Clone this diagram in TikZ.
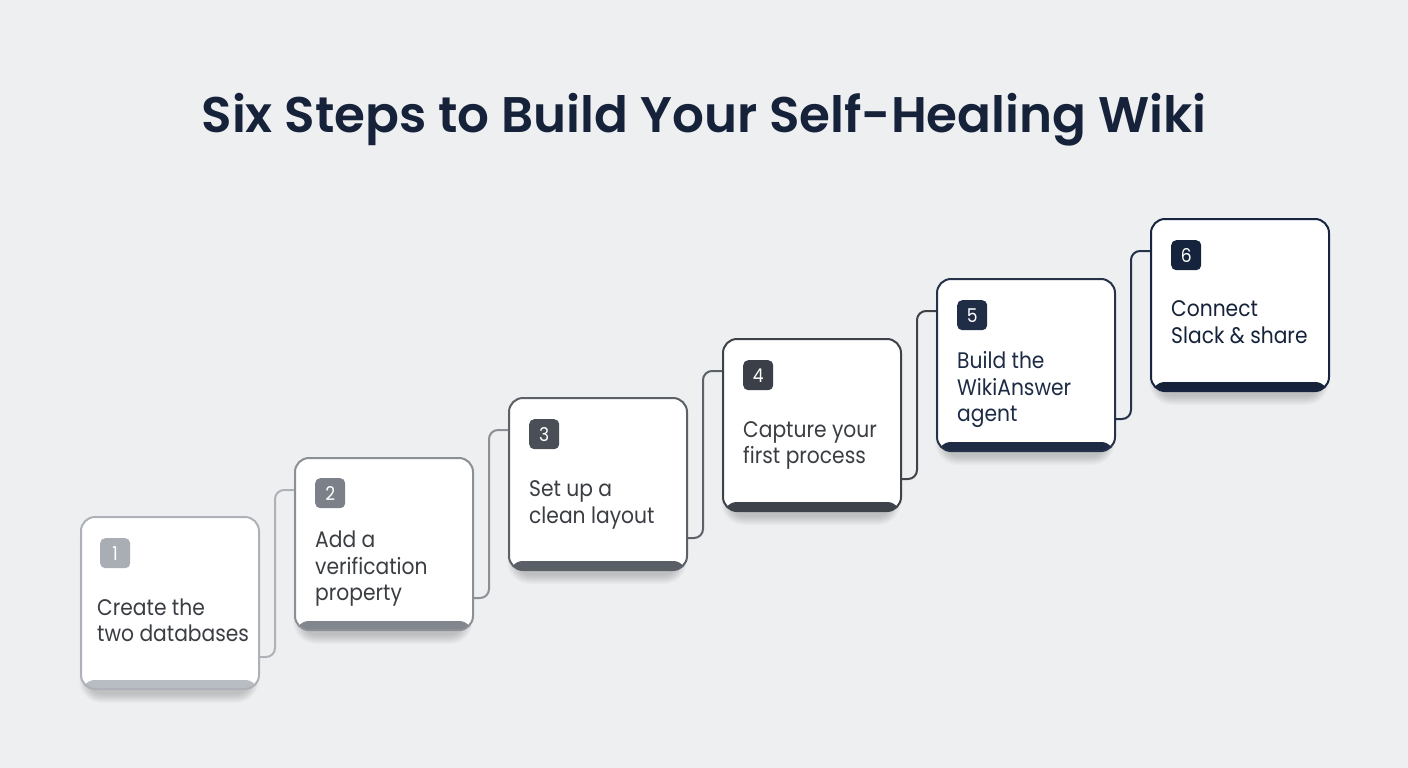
\documentclass[tikz,border=0pt]{standalone}
\usepackage{fontspec}
\setmainfont{Poppins}
\newfontfamily\bodyfont{Poppins}[FakeStretch=0.9]
\newfontfamily\titlefont{Poppins}[UprightFont={* SemiBold}]
\usetikzlibrary{calc}
\definecolor{bgc}{HTML}{EEEFF1}
\definecolor{navy}{HTML}{15223A}
\definecolor{txt}{HTML}{3A3D42}
\definecolor{bA}{HTML}{AEB2B8}\definecolor{nA}{HTML}{A9ADB4}\definecolor{kA}{HTML}{B8BCC3}
\definecolor{bB}{HTML}{8C9096}\definecolor{nB}{HTML}{7C8088}\definecolor{kB}{HTML}{82868D}
\definecolor{bC}{HTML}{5C6067}\definecolor{nC}{HTML}{4A4F57}\definecolor{kC}{HTML}{5A5E66}
\definecolor{bD}{HTML}{3E434A}\definecolor{nD}{HTML}{3A3F48}\definecolor{kD}{HTML}{3E434B}
\definecolor{bE}{HTML}{25324A}\definecolor{nE}{HTML}{1F2D47}\definecolor{kE}{HTML}{1E2B45}
\definecolor{bF}{HTML}{182540}\definecolor{nF}{HTML}{15233D}\definecolor{kF}{HTML}{15223A}
\tikzset{
  card/.style 2 args={draw=#1, line width=2pt, fill=white, rounded corners=14pt,
    minimum width=178pt, minimum height=172pt, inner sep=0pt, anchor=north west,
    path picture={\fill[#2] ([yshift=-1pt]path picture bounding box.south west) rectangle ([yshift=9pt]path picture bounding box.south east);}},
  badge/.style={fill=#1, rounded corners=5pt, minimum width=30pt, minimum height=30pt,
    inner sep=0pt, anchor=north west, text=white, font=\bodyfont\fontsize{19}{19}\selectfont},
  line/.style={anchor=base west, inner sep=0pt, font=\bodyfont\fontsize{22.5}{27}\selectfont, text=#1},
  conn/.style={draw=#1, line width=2pt, rounded corners=9pt},
  shadowlayer/.style={fill=black, opacity=0.02},
}
\begin{document}
\begin{tikzpicture}[x=1pt,y=-1pt]
\fill[bgc] (0,0) rectangle (1408,768);
\node[anchor=base, text=navy, font=\titlefont\fontsize{50}{50}\selectfont] (title) at (704,132) {Six Steps to Build Your Self-Healing Wiki};
% soft shadows under the cards
\foreach \x/\y in {80/516,294/457,508/397,722/338,936/278,1150/218}
  \foreach \i in {0,...,9}
    \fill[shadowlayer, rounded corners={14+\i}] ({\x+8-\i},{\y+14-\i}) rectangle ({\x+170+\i},{\y+178+\i});
% cards
\node[card={bA}{kA}] (c1) at (80,516) {};
\node[card={bB}{kB}] (c2) at (294,457) {};
\node[card={bC}{kC}] (c3) at (508,397) {};
\node[card={bD}{kD}] (c4) at (722,338) {};
\node[card={bE}{kE}] (c5) at (936,278) {};
\node[card={bF}{kF}] (c6) at (1150,218) {};
% badges
\node[badge=nA] (n1) at (100,538) {1};
\node[badge=nB] (n2) at (315,478) {2};
\node[badge=nC] (n3) at (529,419) {3};
\node[badge=nD] (n4) at (743,360) {4};
\node[badge=nE] (n5) at (957,300) {5};
\node[badge=nF] (n6) at (1171,240) {6};
% texts
\node[line=txt] (t1a) at (97,615) {Create the};
\node[line=txt] (t1b) at (97,641) {two databases};
\node[line=txt] (t2a) at (315,547) {Add a};
\node[line=txt] (t2b) at (315,574) {verification};
\node[line=txt] (t2c) at (315,600) {property};
\node[line=txt] (t3a) at (529,496) {Set up a};
\node[line=txt] (t3b) at (529,523) {clean layout};
\node[line=txt] (t4a) at (743,437) {Capture your};
\node[line=txt] (t4b) at (743,463) {first process};
\node[line=kE] (t5a) at (957,368) {Build the};
\node[line=kE] (t5b) at (957,395) {WikiAnswer};
\node[line=kE] (t5c) at (957,421) {agent};
\node[line=kF] (t6a) at (1171,316) {Connect};
\node[line=kF] (t6b) at (1171,343) {Slack \& share};
% connectors
\draw[conn=bA] ($(c1.south east)+(0,-33)$) -| ($(c2.north west)+(-19,33)$) -- ($(c2.north west)+(0,33)$);
\draw[conn=bB] ($(c2.south east)+(0,-33)$) -| ($(c3.north west)+(-19,33)$) -- ($(c3.north west)+(0,33)$);
\draw[conn=bC] ($(c3.south east)+(0,-33)$) -| ($(c4.north west)+(-19,33)$) -- ($(c4.north west)+(0,33)$);
\draw[conn=bD] ($(c4.south east)+(0,-33)$) -| ($(c5.north west)+(-19,33)$) -- ($(c5.north west)+(0,33)$);
\draw[conn=bE] ($(c5.south east)+(0,-33)$) -| ($(c6.north west)+(-19,33)$) -- ($(c6.north west)+(0,33)$);
\end{tikzpicture}
\end{document}
